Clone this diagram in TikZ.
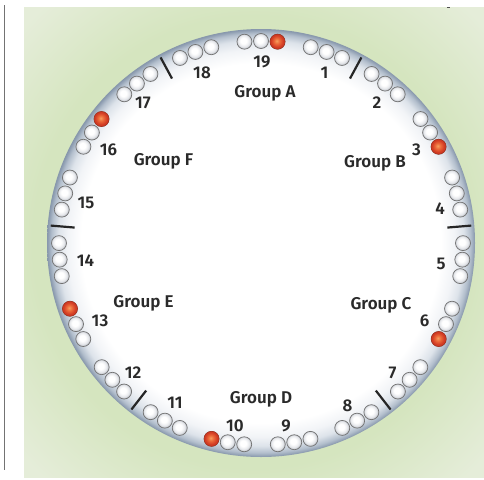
\documentclass[tikz,border=0pt]{standalone}
\usepackage{fontspec}
\setmainfont{Fira Sans}[UprightFont=* SemiBold]
\usetikzlibrary{calc}
\definecolor{txtc}{HTML}{2A2A2A}
\definecolor{bgIn}{HTML}{D5E5BF}
\definecolor{bgOut}{HTML}{E5EDD9}
\definecolor{rimA}{HTML}{F2F4F7}
\definecolor{rimB}{HTML}{DDE3EA}
\definecolor{rimC}{HTML}{B2BECC}
\definecolor{rimD}{HTML}{8696AB}
\definecolor{ballHi}{HTML}{FFFFFF}
\definecolor{ballMid}{HTML}{E4E6EA}
\definecolor{ballLo}{HTML}{B9BDC4}
\definecolor{redHi}{HTML}{F5A060}
\definecolor{redMid}{HTML}{EC6A3A}
\definecolor{redLo}{HTML}{D23C24}
\pgfdeclareradialshading{bgshade}{\pgfpoint{0bp}{0bp}}{color(0bp)=(bgIn); color(24bp)=(bgIn); color(34bp)=(bgOut); color(50bp)=(bgOut)}
\pgfdeclareradialshading{rimshade}{\pgfpoint{0bp}{0bp}}{color(0bp)=(white); color(21bp)=(white); color(22.6bp)=(rimA); color(23.7bp)=(rimB); color(24.5bp)=(rimC); color(25bp)=(rimD); color(50bp)=(rimD)}
\pgfdeclareradialshading{wballshade}{\pgfpoint{-4bp}{4bp}}{color(0bp)=(ballHi); color(10bp)=(ballHi); color(20bp)=(ballMid); color(25bp)=(ballLo); color(50bp)=(ballLo)}
\pgfdeclareradialshading{rballshade}{\pgfpoint{-3bp}{3bp}}{color(0bp)=(redHi); color(9bp)=(redMid); color(20bp)=(redLo); color(25bp)=(redLo); color(50bp)=(redLo)}
\tikzset{
  wball/.style={circle, minimum size=15pt, inner sep=0pt, draw=black!55, line width=0.7pt, shading=wballshade},
  rball/.style={circle, minimum size=15pt, inner sep=0pt, draw=redLo!80!black, line width=0.6pt, shading=rballshade},
  numlab/.style={font=\fontsize{17}{17}\selectfont, text=txtc, inner sep=0pt, text height=12pt, text depth=0pt},
  grplab/.style={numlab},
  tickline/.style={line width=2.2pt, black!85}
}
\begin{document}
\begin{tikzpicture}[x=1pt,y=1pt]
\useasboundingbox (0,0) rectangle (484,-479);
\path[shading=bgshade] (24,-7) rectangle (484,-477);
\draw[line width=0.8pt, black!55] (4.5,-5) -- (4.5,-470);
\draw[line width=1pt, black!70] (447,-7.5) -- (449.5,-7.5);
\coordinate (C) at (261,-243);
\path[shading=rimshade] (C) circle[radius=214];
% ticks
\foreach \a in {61.58,4.74,-52.11,-127.89,175.26,118.42}
  \draw[tickline] ($(C)+(\a:187)$) -- ($(C)+(\a:211)$);
% balls
\foreach \i in {0,...,18}{
  \pgfmathsetmacro\th{90-\i*360/19}
  \node[wball] (b\i-1) at ($(C)+(\th+4.7:202)$) {};
  \node[wball] (b\i-2) at ($(C)+(\th:202)$) {};
  \node[wball] (b\i-3) at ($(C)+(\th-4.7:202)$) {};
}
\foreach \i in {0,3,6,10,13,16}{
  \pgfmathsetmacro\th{90-\i*360/19}
  \node[rball] (r\i) at ($(C)+(\th-4.7:202)$) {};
}
% numbers
\node[numlab] (n19) at (262,-61.5) {19};
\node[numlab] (n1) at (324.5,-72.5) {1};
\node[numlab] (n2) at (377,-102.5) {2};
\node[numlab] (n3) at (416.5,-149) {3};
\node[numlab] (n4) at (440,-208) {4};
\node[numlab] (n5) at (441,-263.5) {5};
\node[numlab] (n6) at (424.5,-320.5) {6};
\node[numlab] (n7) at (392.5,-372.5) {7};
\node[numlab] (n8) at (347.5,-405) {8};
\node[numlab] (n9) at (286,-425) {9};
\node[numlab] (n10) at (235,-425) {10};
\node[numlab] (n11) at (175,-402.5) {11};
\node[numlab] (n12) at (133,-372.5) {12};
\node[numlab] (n13) at (100,-320.5) {13};
\node[numlab] (n14) at (85.5,-260.5) {14};
\node[numlab] (n15) at (86,-202.5) {15};
\node[numlab] (n16) at (108.5,-149) {16};
\node[numlab] (n17) at (143,-102.5) {17};
\node[numlab] (n18) at (202,-72.5) {18};
% group names
\node[grplab] (GA) at (265,-91) {Group A};
\node[grplab] (GB) at (375,-161.5) {Group B};
\node[grplab] (GC) at (381,-303) {Group C};
\node[grplab] (GD) at (261,-397) {Group D};
\node[grplab] (GE) at (143.5,-301.5) {Group E};
\node[grplab] (GF) at (163.5,-159) {Group F};
\end{tikzpicture}
\end{document}
